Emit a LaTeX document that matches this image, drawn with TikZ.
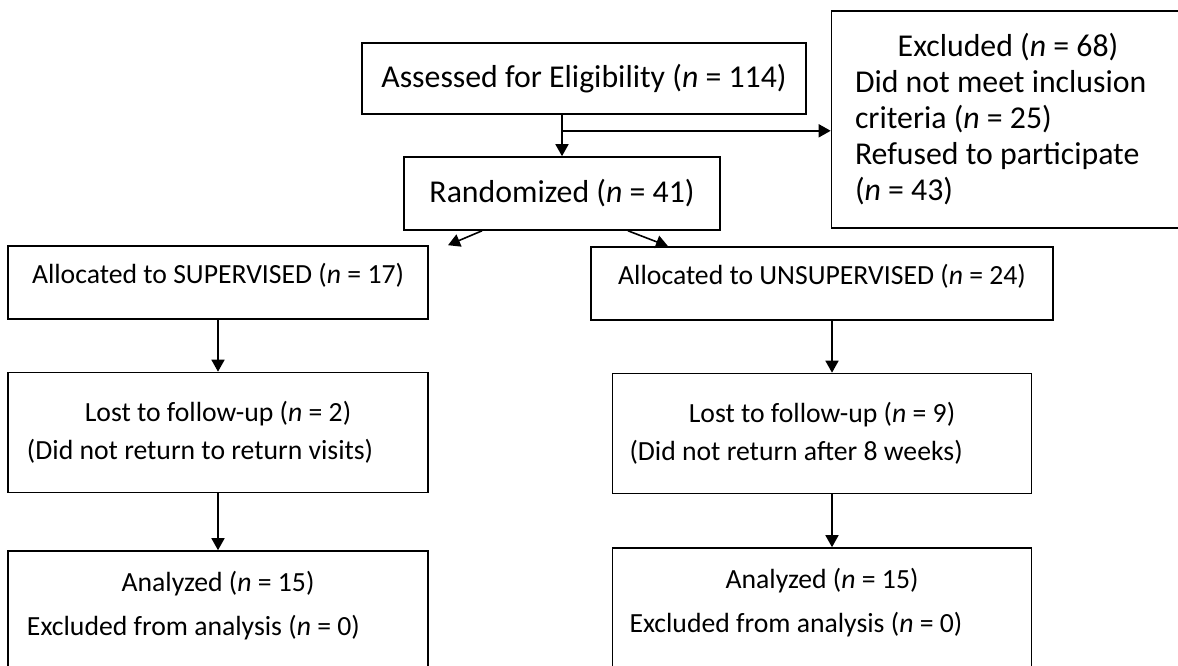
\documentclass[tikz,border=0pt]{standalone}
\usepackage{fontspec}
\setmainfont{Carlito}
\usepackage{tikz}
\usetikzlibrary{arrows.meta}
\tikzstyle{stage} = [rectangle, draw=black, line width=1.6pt, inner sep=0pt,
    font=\fontsize{27.7}{36}\selectfont,
    execute at begin node={\spaceskip=0pt\xspaceskip=0pt}]
\tikzstyle{top} = [stage, font=\fontsize{31.8}{36}\selectfont]
\tikzstyle{arrow} = [line width=1.6pt, ->, >={Triangle[length=12pt, width=13pt]}]

\begin{document}
\begin{tikzpicture}[x=1pt, y=1pt, node distance=150pt]
            \useasboundingbox (0,0) rectangle (1178,665);
            \clip (0,0) rectangle (1178,665);
            \node (assess) [top, minimum width=444pt, minimum height=71pt] at (584,586.5) {Assessed for Eligibility (\textit{n} = 114)};
            \node (rand) [top, below of=assess, xshift=-22pt, yshift=35pt, minimum width=316pt, minimum height=73pt] {Randomized (\textit{n} = 41)};
            \node (excl) [top, right of=assess, xshift=274pt, yshift=-41pt, text width=306pt, minimum width=353pt, minimum height=217pt] {\makebox[\linewidth]{Excluded (\textit{n} = 68)}\\ Did not meet inclusion\\ criteria (\textit{n} = 25)\\ Refused to participate\\ (\textit{n} = 43)};
            \node (sup) [stage, below of=rand, xshift=-344pt, yshift=61pt, minimum width=420pt, minimum height=73pt, text depth=18pt] {Allocated to SUPERVISED (\textit{n} = 17)};
            \node (unsup) [stage, right of=sup, xshift=454pt, yshift=-1pt, minimum width=462pt, minimum height=73pt, text depth=18pt] {Allocated to UNSUPERVISED (\textit{n} = 24)};
            \node (lostS) [stage, below of=sup, text width=382pt, minimum width=420pt, minimum height=120pt] {\makebox[\linewidth]{Lost to follow-up (\textit{n} = 2)}\\[2pt] (Did not return to return visits)};
            \node (lostU) [stage, below of=unsup, text width=385pt, minimum width=419pt, minimum height=120pt] {\makebox[\linewidth]{Lost to follow-up (\textit{n} = 9)}\\[2pt] (Did not return after 8 weeks)};
            \node (anaS) [stage, below of=lostS, yshift=-48pt, text width=382pt, minimum width=420pt, minimum height=159pt] {\makebox[\linewidth]{Analyzed (\textit{n} = 15)}\\[8pt] Excluded from analysis (\textit{n} = 0)\\[8pt] \strut};
            \node (anaU) [stage, below of=lostU, yshift=-44pt, text width=385pt, minimum width=419pt, minimum height=159pt] {\makebox[\linewidth]{Analyzed (\textit{n} = 15)}\\[8pt] Excluded from analysis (\textit{n} = 0)\\[8pt] \strut};

            \path (rand.north |- assess.south) ++(0,-16) coordinate (split);
            \draw [arrow] (rand.north |- assess.south) -- (rand.north);
            \draw [arrow] (split) -- (split -| excl.west);
            \draw [arrow] ([xshift=-80pt]rand.south) -- ([xshift=230pt]sup.north);
            \draw [arrow] ([xshift=66pt]rand.south) -- ([xshift=-154pt]unsup.north);
            \draw [arrow] (sup) -- (lostS);
            \draw [arrow] (lostS) -- (anaS);
            \draw [arrow] ([xshift=10pt]unsup.south) -- ([xshift=10pt]lostU.north);
            \draw [arrow] ([xshift=10pt]lostU.south) -- ([xshift=10pt]anaU.north);
        \end{tikzpicture}
\end{document}
